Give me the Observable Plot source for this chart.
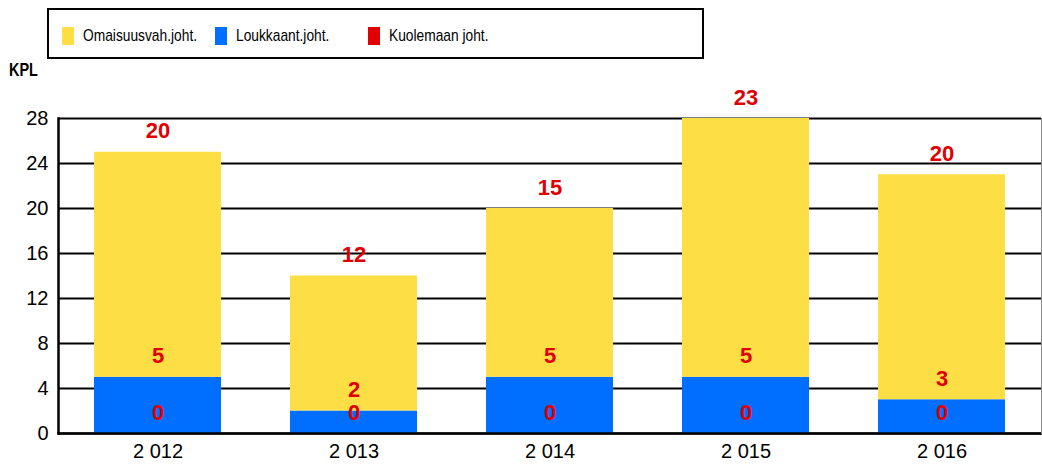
<!DOCTYPE html>
<html>
<head>
<meta charset="utf-8">
<script src="https://cdn.jsdelivr.net/npm/d3@7"></script>
<script src="https://cdn.jsdelivr.net/npm/@observablehq/plot@0.6"></script>
<style>
  html, body { margin: 0; padding: 0; background: #fff; }
  #wrap { position: relative; width: 1042px; height: 467px; font-family: "Liberation Sans", Arial, sans-serif; }
  #legend { position: absolute; left: 47px; top: 8px; width: 653px; height: 47px; border: 2px solid #000; box-sizing: content-box; }
  .item { position: absolute; top: 16px; display: flex; align-items: center; color: #000; }
  .sw { width: 12px; height: 18px; margin-right: 9px; flex: none; }
  .lbl { display: inline-block; font-size: 17px; line-height: 20px; transform: scaleX(0.81); transform-origin: left center; white-space: nowrap; }
  #kpl { position: absolute; left: 9px; top: 60px; font-weight: bold; font-size: 18px; transform: scaleX(0.8); transform-origin: left; }
  #chart { position: absolute; left: 0; top: 0; }
</style>
</head>
<body>
<div id="wrap">
  <div id="chart"></div>
  <div id="legend"></div>
  <div id="kpl">KPL</div>
</div>
<script>
const years = ["2 012", "2 013", "2 014", "2 015", "2 016"];
const seriesNames = ["Kuolemaan joht.", "Loukkaant.joht.", "Omaisuusvah.joht."];
const legendOrder = ["Omaisuusvah.joht.", "Loukkaant.joht.", "Kuolemaan joht."];
const colors = ["#E00000", "#006EFF", "#FDDE45"];
const kuolemaan = [0, 0, 0, 0, 0];
const loukkaant = [5, 2, 5, 5, 3];
const omaisuus = [20, 12, 15, 23, 20];
const yTicks = [0, 4, 8, 12, 16, 20, 24, 28];

const seriesValues = [kuolemaan, loukkaant, omaisuus];
const data = [];
years.forEach((y, i) => {
  seriesNames.forEach((s, j) => data.push({year: y, series: s, value: seriesValues[j][i]}));
});

const chart = Plot.plot({
  width: 1042,
  height: 467,
  marginTop: 118,
  marginLeft: 58,
  marginRight: 1,
  marginBottom: 34,
  style: {fontFamily: "Liberation Sans, Arial, sans-serif", background: "white"},
  x: {domain: years, paddingInner: 0.35, paddingOuter: 0.175, label: null},
  y: {domain: [0, 28], ticks: yTicks, label: null},
  color: {domain: seriesNames, range: colors},
  marks: [
    Plot.ruleY(yTicks, {stroke: "#000", strokeWidth: 2}),
    Plot.barY(data, {x: "year", y: "value", fill: "series", order: seriesNames}),
    Plot.frame({anchor: "left", stroke: "#000", strokeWidth: 2.5}),
    Plot.frame({anchor: "bottom", stroke: "#000", strokeWidth: 2.5}),
    Plot.frame({anchor: "right", stroke: "#888", strokeWidth: 1}),
    Plot.text(data, Plot.stackY2({x: "year", y: "value", z: "series", order: seriesNames,
      text: d => String(d.value), fill: "#E00000", fontWeight: "bold", fontSize: 22, dy: -21, lineAnchor: "middle"})),
    Plot.axisY({ticks: yTicks, tickSize: 0, tickPadding: 10, fontSize: 20, label: null}),
    Plot.axisX({tickSize: 0, tickPadding: 10, fontSize: 20, label: null})
  ]
});
document.getElementById("chart").appendChild(chart);

const legend = document.getElementById("legend");
const legendX = [13, 166, 319];
legendOrder.forEach((name, i) => {
  const item = document.createElement("div");
  item.className = "item";
  item.style.left = legendX[i] + "px";
  const sw = document.createElement("div");
  sw.className = "sw";
  sw.style.background = colors[seriesNames.indexOf(name)];
  const t = document.createElement("span");
  t.className = "lbl";
  t.textContent = name;
  item.appendChild(sw);
  item.appendChild(t);
  legend.appendChild(item);
});
</script>
</body>
</html>
